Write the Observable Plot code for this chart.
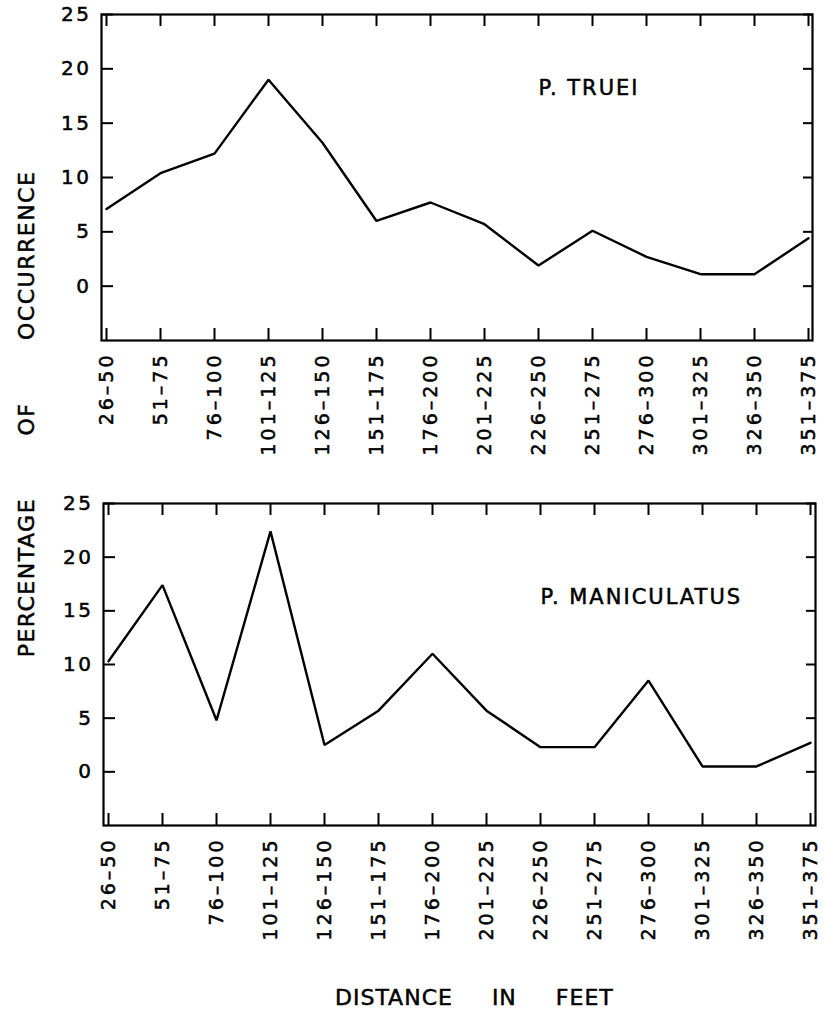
<!DOCTYPE html>
<html>
<head>
<meta charset="utf-8">
<script src="https://cdn.jsdelivr.net/npm/d3@7"></script>
<script src="https://cdn.jsdelivr.net/npm/@observablehq/plot@0.6"></script>
<style>
  html, body { margin: 0; padding: 0; background: #fff; }
  #page { position: relative; width: 826px; height: 1011px; overflow: hidden; background: #fff; font-family: "DejaVu Sans", sans-serif; color: #000; }
  .panel { position: absolute; left: 0; }
  #ytitle { position: absolute; left: 26px; top: 414px; transform: translate(-50%, -50%) rotate(-90deg); white-space: pre; font-size: 22px; letter-spacing: 1.5px; word-spacing: 54px; -webkit-text-stroke: 0.5px #000; }
  #xtitle { position: absolute; left: 335px; top: 987px; white-space: pre; font-size: 22px; letter-spacing: 1px; word-spacing: 31px; line-height: 1; -webkit-text-stroke: 0.5px #000; }
  #page svg text { stroke: #000; stroke-width: 0.5px; }
  #page svg g[aria-label="x-axis tick label"] text { letter-spacing: 3px; font-size: 19px; }
  #page svg g[aria-label="y-axis tick label"] text { letter-spacing: 2.5px; font-size: 20px; }
  #page svg g[aria-label="text"] text { letter-spacing: 2px; font-size: 21px; }
</style>
</head>
<body>
<div id="page">
  <div id="top" class="panel" style="top:0px"></div>
  <div id="bottom" class="panel" style="top:470px"></div>
  <div id="ytitle">PERCENTAGE OF OCCURRENCE</div>
  <div id="xtitle">DISTANCE IN FEET</div>
</div>
<script>
const categories = ["26–50", "51–75", "76–100", "101–125", "126–150", "151–175", "176–200",
  "201–225", "226–250", "251–275", "276–300", "301–325", "326–350", "351–375"];
const trueiValues = [7.1, 10.4, 12.2, 19.0, 13.2, 6.0, 7.7, 5.7, 1.9, 5.1, 2.7, 1.1, 1.1, 4.4];
const maniculatusValues = [10.3, 17.4, 4.8, 22.4, 2.5, 5.7, 11.0, 5.7, 2.3, 2.3, 8.5, 0.5, 0.5, 2.7];
const yTicks = [0, 5, 10, 15, 20, 25];
const yDomain = [-5, 25];
const speciesLabels = ["P. TRUEI", "P. MANICULATUS"];

function panel(values, label, labelAt, m) {
  const data = categories.map((c, i) => ({cat: c, v: values[i]}));
  return Plot.plot({
    width: 826,
    height: m.height,
    marginTop: m.top,
    marginBottom: m.bottom,
    marginLeft: m.left,
    marginRight: m.right,
    style: {fontFamily: "DejaVu Sans, sans-serif", background: "white", color: "black", overflow: "visible"},
    x: {type: "point", domain: categories, padding: 0, label: null},
    y: {domain: yDomain, label: null},
    marks: [
      Plot.frame({stroke: "black", strokeWidth: 2.2}),
      // inward ticks on all four sides
      Plot.axisX({anchor: "top", tickSize: -11, strokeWidth: 2, fill: "none", label: null}),
      Plot.axisX({anchor: "bottom", tickSize: -12, strokeWidth: 2, fill: "none", label: null}),
      Plot.axisY(yTicks, {anchor: "left", tickSize: -12, strokeWidth: 2, fill: "none", label: null}),
      Plot.axisY(yTicks, {anchor: "right", tickSize: -10, strokeWidth: 2, fill: "none", label: null}),
      // labels
      Plot.axisX({anchor: "bottom", tickSize: 0, tickRotate: -90, tickPadding: 12, fontSize: 19, label: null}),
      Plot.axisY(yTicks, {anchor: "left", tickSize: 0, tickPadding: 10, fontSize: 20, label: null}),
      Plot.line(data, {x: "cat", y: "v", stroke: "black", strokeWidth: 2.4, strokeLinejoin: "miter"}),
      Plot.text([label], {x: () => labelAt.x, y: () => labelAt.y, text: d => d, textAnchor: "start",
        lineAnchor: "bottom", fontSize: 21, fill: "black"})
    ]
  });
}

document.getElementById("top").append(
  panel(trueiValues, speciesLabels[0], {x: "226–250", y: 17.6},
    {height: 470, top: 14, bottom: 130, left: 101, right: 14})
);
document.getElementById("bottom").append(
  panel(maniculatusValues, speciesLabels[1], {x: "226–250", y: 15.6},
    {height: 490, top: 33, bottom: 135, left: 103, right: 11})
);
</script>
</body>
</html>
